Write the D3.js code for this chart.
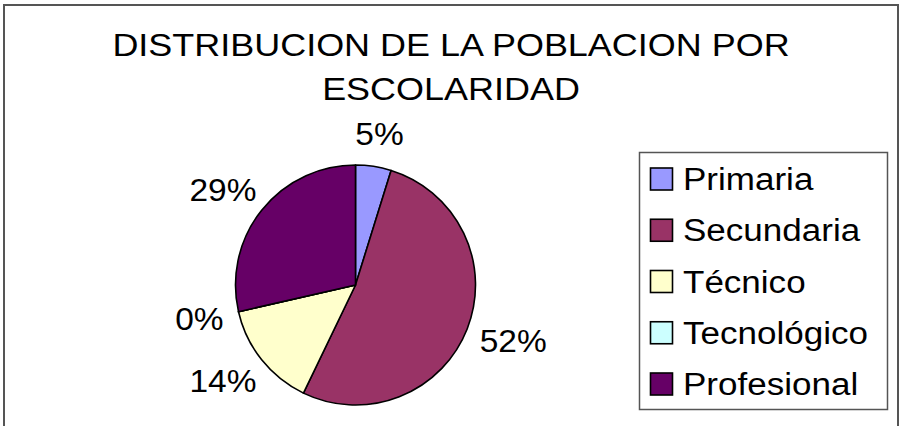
<!DOCTYPE html>
<html>
<head>
<meta charset="utf-8">
<script src="https://cdn.jsdelivr.net/npm/d3@7/dist/d3.min.js"></script>
<style>
  html, body { margin: 0; padding: 0; background: #fff; }
  svg { display: block; font-family: "Liberation Sans", Arial, sans-serif; }
</style>
</head>
<body>
<svg id="chart" width="906" height="426"></svg>
<script>
// ---- data ----
const titleLines = ["DISTRIBUCION DE LA POBLACION POR", "ESCOLARIDAD"];
const categories = ["Primaria", "Secundaria", "Técnico", "Tecnológico", "Profesional"];
const values = [4.8, 52.4, 14.3, 0, 28.6];   // percent of population
const colors = ["#9999FF", "#993366", "#FFFFCC", "#CCFFFF", "#660066"];

// ---- layout ----
const svg = d3.select("#chart");
const W = 906, H = 426;
const stretch = 1.13;   // text in the reference is drawn slightly wide
const fontSize = 31;

// outer frame
svg.append("rect")
  .attr("x", 4).attr("y", 5).attr("width", 894).attr("height", H + 20)
  .attr("fill", "#fff").attr("stroke", "#555").attr("stroke-width", 2);

function stretchedText(parent, x, y, str, anchor, sx) {
  const k = sx || stretch;
  const g = parent.append("g").attr("transform", `translate(${x},${y}) scale(${k},1)`);
  g.append("text")
    .attr("x", 0).attr("y", 0)
    .attr("text-anchor", anchor || "start")
    .attr("font-size", fontSize)
    .attr("fill", "#000")
    .text(str);
  return g;
}

// title
const titleBase = [56, 100];
titleLines.forEach((t, i) => stretchedText(svg, 451, titleBase[i], t, "middle", 1.16));

// pie
const cx = 355.5, cy = 285, r = 120;
const pie = d3.pie().sort(null).value(d => d)(values);
const arc = d3.arc().innerRadius(0).outerRadius(r);
const gPie = svg.append("g").attr("transform", `translate(${cx},${cy})`);
gPie.selectAll("path").data(pie).join("path")
  .attr("d", arc)
  .attr("fill", (d, i) => colors[i])
  .attr("stroke", "#000")
  .attr("stroke-width", 1.6)
  .attr("stroke-linejoin", "round");

// data labels placed outside the pie, box edge near the label radius
const labelRx = 136, labelRy = 142;
const gLab = svg.append("g");
pie.forEach((d, i) => {
  const mid = (d.startAngle + d.endAngle) / 2;
  const s = Math.sin(mid), c = -Math.cos(mid);
  const g = stretchedText(gLab, 0, 0, Math.round(values[i]) + "%", "middle", 1.08);
  const bb = g.select("text").node().getBBox();
  const w = bb.width * 1.08, h = fontSize * 0.72;
  const px = cx + labelRx * s + s * w / 2;
  const py = cy + labelRy * c + c * h / 2;
  g.attr("transform", `translate(${px},${py + h / 2}) scale(1.08,1)`);
});

// legend
const lg = svg.append("g");
lg.append("rect")
  .attr("x", 639.5).attr("y", 152.5).attr("width", 248).attr("height", 257)
  .attr("fill", "#fff").attr("stroke", "#555").attr("stroke-width", 1.5);
const rowY = d3.scalePoint().domain(categories).range([190, 395]);
categories.forEach((cat, i) => {
  const yb = rowY(cat);
  lg.append("rect")
    .attr("x", 650.5).attr("y", yb - 22).attr("width", 22).attr("height", 22)
    .attr("fill", colors[i]).attr("stroke", "#000").attr("stroke-width", 1.6);
  stretchedText(lg, 683, yb, cat, "start");
});
</script>
</body>
</html>
